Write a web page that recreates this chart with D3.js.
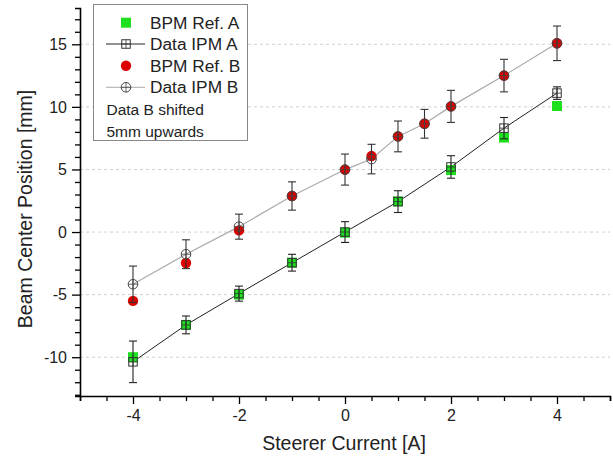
<!DOCTYPE html>
<html><head><meta charset="utf-8">
<script src="https://cdn.jsdelivr.net/npm/d3@7"></script>
<style>body{margin:0;background:#fff}svg{display:block;font-family:"Liberation Sans",Arial,sans-serif}</style>
</head><body><svg id="c" width="613" height="460"></svg>
<script>
const currentsA = [-4,-3,-2,-1,0,1,2,3,4];
const bpmRefA   = [-10.0,-7.42,-5.0,-2.45,-0.05,2.45,4.95,7.55,10.07];
const ipmA      = [-10.37,-7.42,-4.92,-2.45,0.0,2.43,5.2,8.3,11.1];
const ipmAErr   = [1.66,0.71,0.6,0.67,0.83,0.87,0.9,0.85,0.5];
const currentsB = [-4,-3,-2,-1,0,0.5,1,1.5,2,3,4];
const bpmRefB   = [-5.5,-2.47,0.13,2.88,4.99,6.07,7.64,8.65,10.04,12.5,15.08];
const ipmB      = [-4.17,-1.77,0.43,2.88,4.99,5.83,7.64,8.65,10.04,12.5,15.08];
const ipmBErr   = [1.45,1.15,1.0,1.13,1.24,1.18,1.23,1.15,1.28,1.3,1.38];
const xMajorTicks = [-4,-2,0,2,4];
const yMajorTicks = [-10,-5,0,5,10,15];
const legendLabels = ["BPM Ref. A","Data IPM A","BPM Ref. B","Data IPM B"];
const noteLines = ["Data B shifted","5mm upwards"];
const xTitle = "Steerer Current [A]";
const yTitle = "Beam Center Position [mm]";

const svg = d3.select("#c");
const x = d3.scaleLinear().domain([-5,5]).range([80,610]);
const y = d3.scaleLinear().domain([-13.1,17.9]).range([396,8]);

// gridlines
svg.append("g").selectAll("line").data(yMajorTicks).join("line")
  .attr("x1",80).attr("x2",610).attr("y1",d=>y(d)).attr("y2",d=>y(d))
  .attr("stroke","#cfcfcf").attr("stroke-width",1).attr("stroke-dasharray","3,3");

// axes
const xMinor = d3.range(-5,5.01,0.5).filter(v=>!xMajorTicks.includes(v));
const yMinor = d3.range(-13,18,1).filter(v=>!yMajorTicks.includes(v));
const gx = svg.append("g").attr("transform","translate(0,396)");
gx.call(d3.axisBottom(x).tickValues(xMinor).tickSize(5).tickFormat(""));
gx.call(g=>g.selectAll(".tick text").remove());
const gx2 = svg.append("g").attr("transform","translate(0,396)");
gx2.call(d3.axisBottom(x).tickValues(xMajorTicks).tickSize(8).tickPadding(6).tickFormat(d3.format("d")));
gx2.select(".domain").remove();
const gy = svg.append("g").attr("transform","translate(80,0)");
gy.call(d3.axisLeft(y).tickValues(yMinor).tickSize(5).tickFormat(""));
const gy2 = svg.append("g").attr("transform","translate(80,0)");
gy2.call(d3.axisLeft(y).tickValues(yMajorTicks).tickSize(8).tickPadding(5).tickFormat(d3.format("d")));
gy2.select(".domain").remove();
svg.selectAll(".domain").attr("stroke","#000").attr("stroke-width",1.6);
svg.selectAll(".tick line").attr("stroke","#000").attr("stroke-width",1.3);
svg.selectAll(".tick text").attr("font-size",16).attr("fill","#222")
  .attr("font-family","'Liberation Sans',Arial,sans-serif");
svg.selectAll(".tick text").text(function(){return d3.select(this).text().replace("−","-");});

// titles
svg.append("text").attr("x",344).attr("y",450).attr("text-anchor","middle")
  .attr("font-size",19.5).attr("fill","#222").text(xTitle);
svg.append("text").attr("transform","translate(32,209) rotate(-90)").attr("text-anchor","middle")
  .attr("font-size",19.5).attr("fill","#222").text(yTitle);

const A = currentsA.map((c,i)=>({c,ref:bpmRefA[i],v:ipmA[i],e:ipmAErr[i]}));
const B = currentsB.map((c,i)=>({c,ref:bpmRefB[i],v:ipmB[i],e:ipmBErr[i]}));

const line = d3.line().x(d=>x(d.c)).y(d=>y(d.v));
svg.append("path").datum(B).attr("d",line).attr("fill","none").attr("stroke","#aaa").attr("stroke-width",1.2);
svg.append("path").datum(A).attr("d",line).attr("fill","none").attr("stroke","#222").attr("stroke-width",1);

// ref markers
const gs = 10;
svg.append("g").selectAll("rect").data(A).join("rect")
  .attr("x",d=>x(d.c)-gs/2).attr("y",d=>y(d.ref)-gs/2).attr("width",gs).attr("height",gs)
  .attr("fill","#1ee01e");
svg.append("g").selectAll("circle").data(B).join("circle")
  .attr("cx",d=>x(d.c)).attr("cy",d=>y(d.ref)).attr("r",5.2).attr("fill","#dd0000");

function errBars(data,color){
  const g = svg.append("g").attr("stroke",color).attr("stroke-width",1.1);
  g.selectAll(".v").data(data).join("line")
    .attr("x1",d=>x(d.c)).attr("x2",d=>x(d.c)).attr("y1",d=>y(d.v-d.e)).attr("y2",d=>y(d.v+d.e));
  [1,-1].forEach(s=>{
    g.selectAll(".c"+s).data(data).join("line")
      .attr("x1",d=>x(d.c)-4).attr("x2",d=>x(d.c)+4)
      .attr("y1",d=>y(d.v+s*d.e)).attr("y2",d=>y(d.v+s*d.e));
  });
}
errBars(A,"#222");
errBars(B,"#333");

function sqMarker(g,cx,cy,col){
  const s=8.5;
  g.append("rect").attr("x",cx-s/2).attr("y",cy-s/2).attr("width",s).attr("height",s)
    .attr("fill","none").attr("stroke",col).attr("stroke-width",1);
  g.append("line").attr("x1",cx-s/2).attr("x2",cx+s/2).attr("y1",cy).attr("y2",cy).attr("stroke",col).attr("stroke-width",0.8);
  g.append("line").attr("x1",cx).attr("x2",cx).attr("y1",cy-s/2).attr("y2",cy+s/2).attr("stroke",col).attr("stroke-width",0.8);
}
function ciMarker(g,cx,cy,col){
  const r=4.8;
  g.append("circle").attr("cx",cx).attr("cy",cy).attr("r",r).attr("fill","none").attr("stroke",col).attr("stroke-width",1);
  g.append("line").attr("x1",cx-r).attr("x2",cx+r).attr("y1",cy).attr("y2",cy).attr("stroke",col).attr("stroke-width",0.8);
  g.append("line").attr("x1",cx).attr("x2",cx).attr("y1",cy-r).attr("y2",cy+r).attr("stroke",col).attr("stroke-width",0.8);
}
const mA = svg.append("g");
A.forEach(d=>sqMarker(mA,x(d.c),y(d.v),"#333"));
const mB = svg.append("g");
B.forEach(d=>ciMarker(mB,x(d.c),y(d.v),"#444"));

// legend
const lg = svg.append("g");
lg.append("rect").attr("x",93.5).attr("y",4.5).attr("width",154).attr("height",136)
  .attr("fill","#fff").attr("stroke","#888").attr("stroke-width",1);
const rows = [22.7,44,65.7,87.3];
const mx = 126;
lg.append("rect").attr("x",mx-5).attr("y",rows[0]-5).attr("width",10).attr("height",10).attr("fill","#1ee01e");
lg.append("line").attr("x1",106).attr("x2",145).attr("y1",rows[1]).attr("y2",rows[1]).attr("stroke","#222");
sqMarker(lg,mx,rows[1],"#333");
lg.append("circle").attr("cx",mx).attr("cy",rows[2]).attr("r",5.2).attr("fill","#dd0000");
lg.append("line").attr("x1",106).attr("x2",145).attr("y1",rows[3]).attr("y2",rows[3]).attr("stroke","#aaa");
ciMarker(lg,mx,rows[3],"#444");
lg.selectAll(".lab").data(legendLabels).join("text")
  .attr("x",150).attr("y",(d,i)=>rows[i]+6).attr("font-size",17.3).attr("fill","#222").text(d=>d);
lg.selectAll(".note").data(noteLines).join("text")
  .attr("x",106.5).attr("y",(d,i)=>[109,131.5][i]+5.5).attr("font-size",15.5).attr("fill","#222").text(d=>d);
</script></body></html>
